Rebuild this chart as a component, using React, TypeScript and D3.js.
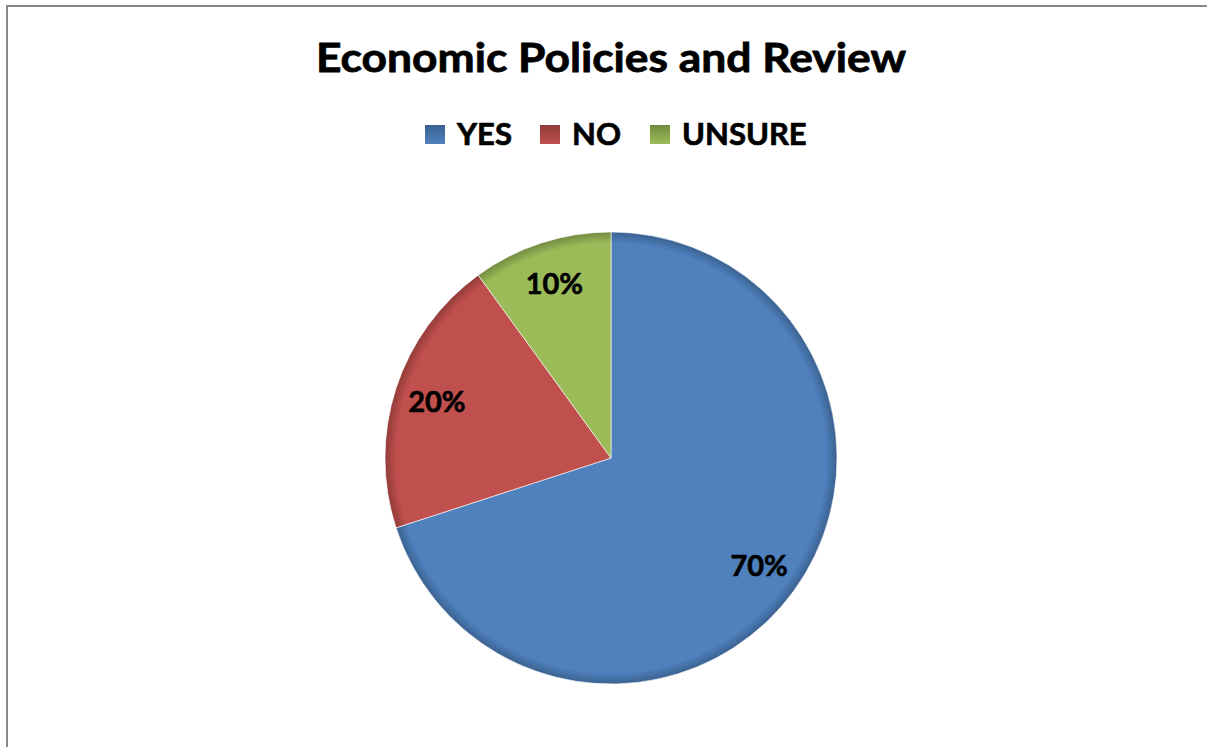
import React from "react";
import * as d3 from "d3";

const categories = ["YES", "NO", "UNSURE"];
const values = [70, 20, 10];
const labels = ["70%", "20%", "10%"];
const colors = ["#4F81BD", "#C0504D", "#9BBB59"];
const darkColors = ["#3A6190", "#923B39", "#728B40"];
const title = "Economic Policies and Review";

const W = 1207;
const H = 747;
const cx = 611;
const cy = 458;
const R = 226;

export default function App() {
  const pie = d3.pie<number>().sort(null).value((d) => d)(values);
  const arc = d3.arc<d3.PieArcDatum<number>>().innerRadius(0).outerRadius(R);
  const labelArc = d3
    .arc<d3.PieArcDatum<number>>()
    .innerRadius(R * 0.81)
    .outerRadius(R * 0.81);

  const legendX = [425, 540, 650];
  const font = "Lato, 'Open Sans', sans-serif";

  return (
    <svg
      width={W}
      height={H}
      style={{ position: "absolute", left: 0, top: 0, background: "#fff" }}
    >
      <defs>
        {colors.map((c, i) => (
          <radialGradient
            key={i}
            id={`pg${i}`}
            gradientUnits="userSpaceOnUse"
            cx={0}
            cy={0}
            r={R}
          >
            <stop offset="0%" stopColor={c} />
            <stop offset="95%" stopColor={c} />
            <stop offset="100%" stopColor={darkColors[i]} />
          </radialGradient>
        ))}
        {colors.map((c, i) => (
          <linearGradient key={i} id={`lg${i}`} x1="0" y1="0" x2="0" y2="1">
            <stop offset="0%" stopColor={darkColors[i]} />
            <stop offset="100%" stopColor={c} />
          </linearGradient>
        ))}
      </defs>
      <rect x={0} y={0} width={W} height={H} fill="#fff" />
      <rect
        x={7}
        y={6}
        width={W + 20}
        height={H + 20}
        fill="none"
        stroke="#888888"
        strokeWidth={2}
      />
      <text
        x={611}
        y={72}
        textAnchor="middle"
        fontFamily={font}
        fontWeight="bold"
        fontSize={40}
        fill="#000"
        stroke="#000"
        strokeWidth={0.8}
        textLength={590}
        lengthAdjust="spacingAndGlyphs"
      >
        {title}
      </text>
      {categories.map((c, i) => (
        <g key={c}>
          <rect
            x={legendX[i]}
            y={125}
            width={20}
            height={19}
            fill={`url(#lg${i})`}
          />
          <text
            x={legendX[i] + 32}
            y={145}
            fontFamily={font}
            fontWeight="bold"
            fontSize={31}
            fill="#000"
            stroke="#000"
            strokeWidth={0.7}
          >
            {c}
          </text>
        </g>
      ))}
      <g transform={`translate(${cx},${cy})`}>
        {pie.map((p, i) => (
          <path
            key={"s" + i}
            d={arc(p) || ""}
            fill={`url(#pg${i})`}
            stroke="#ffffff"
            strokeOpacity={0.6}
            strokeWidth={1}
          />
        ))}
        {pie.map((p, i) => {
          const [lx, ly] = labelArc.centroid(p);
          return (
            <text
              key={"l" + i}
              x={lx}
              y={ly}
              dy="0.35em"
              textAnchor="middle"
              fontFamily={font}
              fontWeight="bold"
              fontSize={29}
              fill="#000"
              stroke="#000"
              strokeWidth={0.6}
            >
              {labels[i]}
            </text>
          );
        })}
      </g>
    </svg>
  );
}
